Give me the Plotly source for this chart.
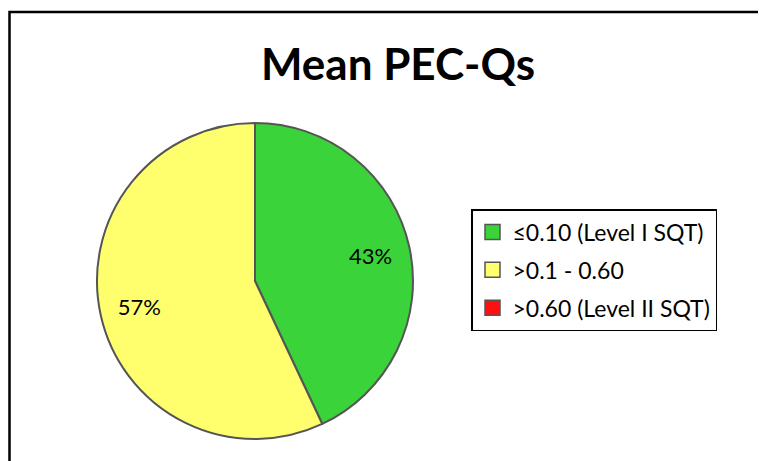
import plotly.graph_objects as go

categories = ["≤0.10 (Level I SQT)", ">0.1 - 0.60", ">0.60 (Level II SQT)"]
values = [43, 57, 0]
colors = ["#3AD33A", "#FFFF6E", "#FF1010"]

# page body has an 8px margin; figure is sized to fit the 766x461 window
OFF = 8
W, H = 766 - OFF, 461 - OFF
FONT = "Lato"


def fx(px):
    return (px - OFF) / W


def fy(py):
    return 1 - (py - OFF) / H


pie_domain = dict(x=[fx(96), fx(414)], y=[fy(439), fy(123)])

fig = go.Figure()
# the filled pie
fig.add_trace(go.Pie(
    labels=categories,
    values=values,
    sort=False,
    direction="clockwise",
    rotation=0,
    marker=dict(colors=colors, line=dict(color="#555555", width=2)),
    textinfo="none",
    showlegend=False,
    hoverinfo="label+percent",
    domain=pie_domain,
))
# transparent ring carrying the percentage labels (puts labels at ~3/4 radius)
fig.add_trace(go.Pie(
    labels=categories,
    values=values,
    sort=False,
    direction="clockwise",
    rotation=0,
    hole=0.5,
    marker=dict(colors=["rgba(0,0,0,0)"] * len(values),
                line=dict(color="rgba(0,0,0,0)", width=0)),
    texttemplate="%{percent:.0%}",
    textposition="inside",
    insidetextorientation="horizontal",
    textfont=dict(family=FONT, size=22, color="black"),
    showlegend=False,
    hoverinfo="skip",
    domain=pie_domain,
))

for i, (cat, col) in enumerate(zip(categories, colors)):
    fig.add_trace(go.Scatter(
        x=[None], y=[None], mode="markers", name=cat,
        marker=dict(symbol="square", size=15, color=col,
                    line=dict(color="#555555", width=1.5)),
        legendgroup=f"g{i}", showlegend=True,
    ))

fig.update_layout(
    width=W, height=H,
    margin=dict(l=0, r=0, t=0, b=0),
    paper_bgcolor="white", plot_bgcolor="white",
    title=dict(text="<b>Mean PEC-Qs</b>", x=fx(398), xanchor="center",
               y=fy(65), yanchor="middle",
               font=dict(family=FONT, size=44, color="black")),
    xaxis=dict(visible=False), yaxis=dict(visible=False),
    legend=dict(x=fx(471), y=fy(209), xanchor="left", yanchor="top",
                bordercolor="black", borderwidth=1.5, bgcolor="white",
                font=dict(family=FONT, size=23, color="black"),
                tracegroupgap=5, traceorder="grouped"),
    shapes=[dict(type="rect", xref="paper", yref="paper",
                 x0=1.5 / W, x1=1.05, y0=-0.05, y1=fy(12),
                 line=dict(color="black", width=2.5), layer="below")],
)

fig.write_html("out.html")
